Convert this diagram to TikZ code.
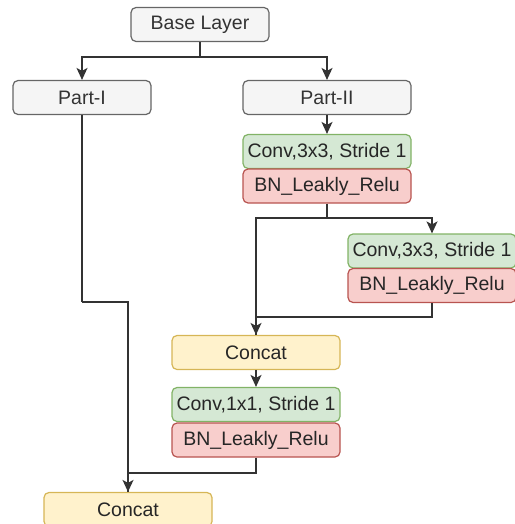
\documentclass[tikz,border=0pt]{standalone}
\usepackage{fontspec}
\setmainfont{Liberation Sans}
\usetikzlibrary{arrows.meta}

\definecolor{greyfill}{HTML}{F5F5F5}
\definecolor{greyline}{HTML}{666666}
\definecolor{greenfill}{HTML}{D5E8D4}
\definecolor{greenline}{HTML}{82B366}
\definecolor{redfill}{HTML}{F8CECC}
\definecolor{redline}{HTML}{B85450}
\definecolor{yellowfill}{HTML}{FFF2CC}
\definecolor{yellowline}{HTML}{D6B656}
\definecolor{textgrey}{HTML}{333333}

\begin{document}
\begin{tikzpicture}
  [x=1pt,y=-1pt,
   every node/.style={rectangle,rounded corners=5pt,line width=1.2pt,inner sep=0pt,
     minimum height=34pt,minimum width=168pt,font=\fontsize{19.5}{22}\selectfont},
   plain/.style={draw=greyline,fill=greyfill,text=textgrey},
   conv/.style={draw=greenline,fill=greenfill,text=black!85},
   bnrelu/.style={draw=redline,fill=redfill,text=black!85},
   cat/.style={draw=yellowline,fill=yellowfill,text=black!85},
   flow/.style={line width=1.4pt,draw=black!80,-{Stealth[length=12pt,width=11pt,inset=3pt]}},
   wire/.style={line width=1.4pt,draw=black!80}]
  \useasboundingbox (0,0) rectangle (514,524);
  \node[plain,minimum width=138pt] (nbase) at (200,24.5) {Base Layer};
  \node[plain,minimum width=138pt] (npone) at (82,97.5) {Part-I};
  \node[plain] (nptwo) at (327,97.5) {Part-II};
  \node[conv] (nconva) at (327,151.5) {Conv,3x3, Stride 1};
  \node[bnrelu] (nbna) at (327,186) {BN\_Leakly\_Relu};
  \node[conv] (nconvb) at (432,251) {Conv,3x3, Stride 1};
  \node[bnrelu] (nbnb) at (432,285.5) {BN\_Leakly\_Relu};
  \node[cat] (ncata) at (256,352.5) {Concat};
  \node[conv] (nconvc) at (256,404.5) {Conv,1x1, Stride 1};
  \node[bnrelu] (nbnc) at (256,440) {BN\_Leakly\_Relu};
  \node[cat] (ncatb) at (128,509.5) {Concat};
  % split points of the wires
  \coordinate (jbase) at (200,57);
  \coordinate (jbna) at (327,218);
  \coordinate (jbnb) at (432,317);
  \coordinate (jbnc) at (256,473);
  \coordinate (jpone) at (82,302);
  \draw[wire] (nbase) -- (jbase);
  \draw[flow] (jbase) -| (npone);
  \draw[flow] (jbase) -| (nptwo);
  \draw[flow] (nptwo) -- (nconva);
  \draw[wire] (nbna) -- (jbna);
  \draw[flow] (jbna) -| (nconvb);
  \draw[flow] (jbna) -| (ncata);
  \draw[wire] (nbnb) -- (jbnb) -| (ncata);
  \draw[flow] (ncata) -- (nconvc);
  \draw[wire] (npone) -- (jpone);
  \draw[flow] (jpone) -| (ncatb);
  \draw[wire] (nbnc) -- (jbnc) -| (ncatb);
\end{tikzpicture}
\end{document}
